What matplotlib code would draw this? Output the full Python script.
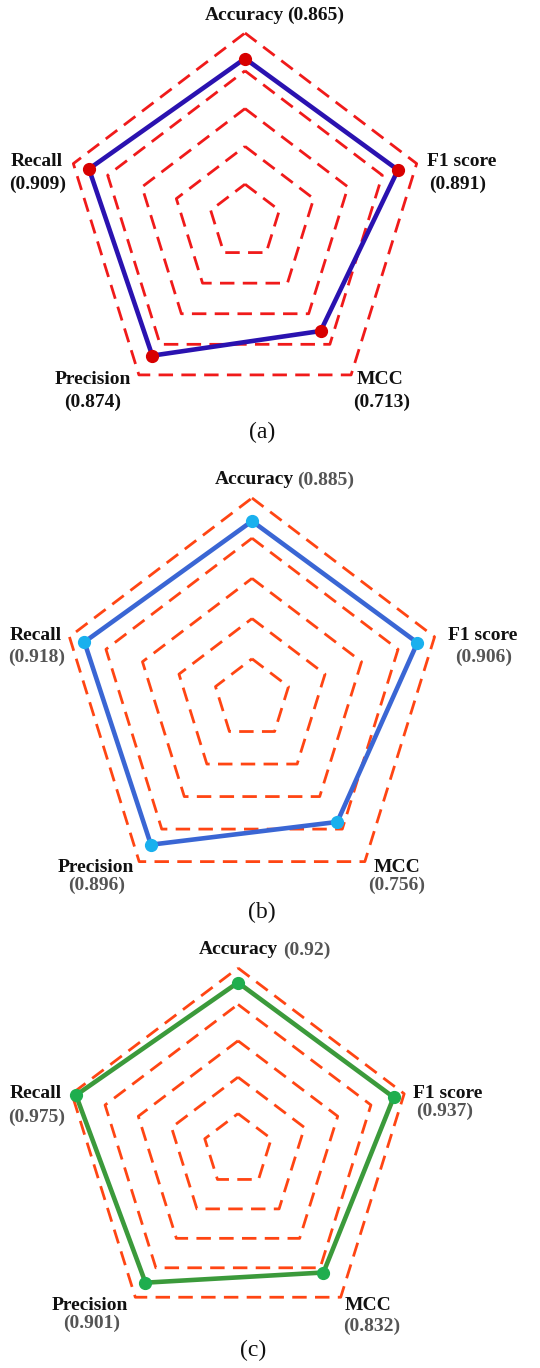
import numpy as np
import matplotlib.pyplot as plt

plt.rcParams['font.family'] = ['Liberation Serif', 'DejaVu Serif']

metrics = ['Accuracy', 'F1 score', 'MCC', 'Precision', 'Recall']
scores_a = [0.865, 0.891, 0.713, 0.874, 0.909]
scores_b = [0.885, 0.906, 0.756, 0.896, 0.918]
scores_c = [0.92, 0.937, 0.832, 0.901, 0.975]
rings = [0.2, 0.4, 0.6, 0.8, 1.0]
tags = ['(a)', '(b)', '(c)']

W, H = 540, 1368
fig = plt.figure(figsize=(W / 100, H / 100), dpi=100)

# axes start at the top and go clockwise
theta = np.deg2rad(90 - 72 * np.arange(len(metrics)))


def closed(vals):
    v = np.append(vals, vals[0])
    t = np.append(theta, theta[0])
    return v * np.cos(t), v * np.sin(t)


panels = [
    dict(scores=scores_a, tag=tags[0], win=(0, 455), cx=245, cy=222, R=189, sx=0.955,
         grid='#f01a1a', line='#2a12b0', dot='#d80000', val_color='#111111',
         acc=(284, 287, 15), lab=[(462, 162, 458, 184), (380, 380, 382, 402),
                                 (93, 380, 93, 402), (37, 162, 38, 184)],
         tag_xy=(262, 432)),
    dict(scores=scores_b, tag=tags[1], win=(455, 930), cx=252, cy=699, R=201, sx=0.955,
         grid='#ff4513', line='#3a66d4', dot='#19b0ee', val_color='#555555',
         acc=(294, 297, 480), lab=[(483, 635, 484, 657), (397, 868, 397, 885),
                                  (96, 868, 97, 885), (36, 635, 37, 657)],
         tag_xy=(262, 912)),
    dict(scores=scores_c, tag=tags[2], win=(930, 1368), cx=238, cy=1150, R=182, sx=0.96,
         grid='#ff4513', line='#3b9a3b', dot='#1fae4e', val_color='#555555',
         acc=(278, 283, 950), lab=[(448, 1093, 445, 1111), (368, 1305, 372, 1326),
                                  (90, 1305, 92, 1323), (36, 1093, 37, 1117)],
         tag_xy=(253, 1350)),
]

for p in panels:
    y0, y1 = p['win']
    cx, cy, R, sx = p['cx'], p['cy'], p['R'], p['sx']
    ax = fig.add_axes([0, 1 - y1 / H, 1, (y1 - y0) / H])
    ax.set_xlim(-cx / (R * sx), (W - cx) / (R * sx))
    ax.set_ylim((cy - y1) / R, (cy - y0) / R)
    ax.axis('off')

    def px(x, y):
        return (x - cx) / (R * sx), (cy - y) / R

    for r in rings:
        gx, gy = closed(np.full(len(metrics), r))
        ax.plot(gx, gy, color=p['grid'], lw=2.0, dashes=(5.2, 3.0), zorder=1)

    lx, ly = closed(np.array(p['scores']))
    ax.plot(lx, ly, color=p['line'], lw=3.3, zorder=2)
    ax.plot(lx[:-1], ly[:-1], 'o', color=p['dot'], ms=8.5, zorder=3)

    font = dict(fontsize=14, fontweight='bold', va='center')
    vals = [f'({v:g})' for v in p['scores']]

    xr, xl, ya = p['acc']
    ax.text(*px(xr, ya), metrics[0], ha='right', color='#111111', **font)
    ax.text(*px(xl, ya), vals[0], ha='left', color=p['val_color'], **font)
    for name, val, (nx, ny, vx, vy) in zip(metrics[1:], vals[1:], p['lab']):
        ax.text(*px(nx, ny), name, ha='center', color='#111111', **font)
        ax.text(*px(vx, vy), val, ha='center', color=p['val_color'], **font)

    ax.text(*px(*p['tag_xy']), p['tag'], ha='center', va='center', fontsize=17,
            color='#111111')

fig.savefig('out.png', dpi=100, facecolor='white')
